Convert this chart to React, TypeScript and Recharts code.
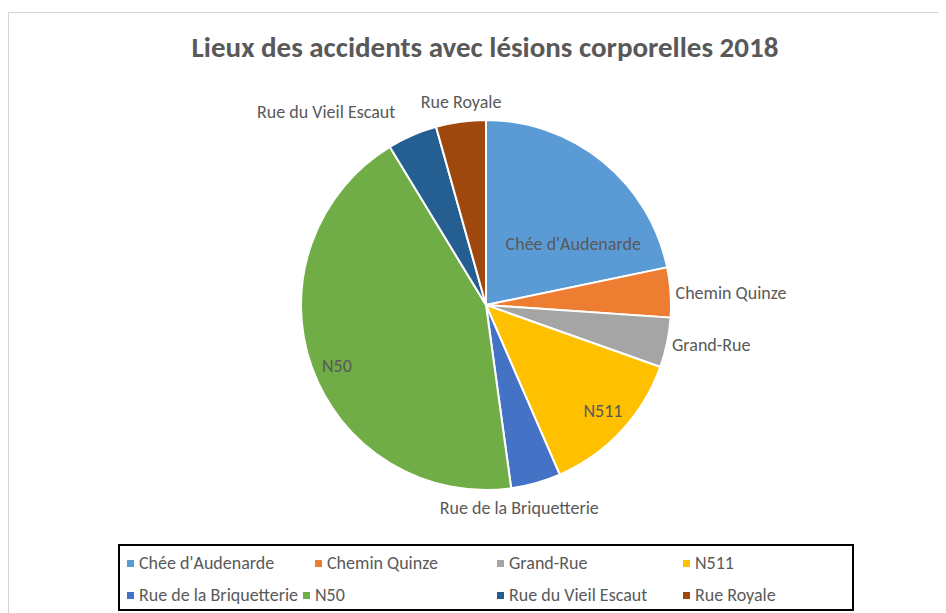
import { Legend, Pie, PieChart, Cell } from "recharts"

const categories = [
  "Chée d'Audenarde",
  "Chemin Quinze",
  "Grand-Rue",
  "N511",
  "Rue de la Briquetterie",
  "N50",
  "Rue du Vieil Escaut",
  "Rue Royale",
]
const accidents = [5, 1, 1, 3, 1, 10, 1, 1]
const colors = ["#5B9BD5", "#ED7D31", "#A5A5A5", "#FFC000", "#4472C4", "#70AD47", "#255E91", "#9E480E"]

const data = categories.map((name, i) => ({ name, value: accidents[i] }))

const FONT = "Carlito, Lato, 'Open Sans', sans-serif"
const TEXT = "#595959"
const RADIAN = Math.PI / 180
const LABEL_SIZE = 18

// petits décalages pour imiter le placement "meilleur ajustement" d'Excel
const labelNudge: Record<string, [number, number]> = {
  "Chée d'Audenarde": [-12, 61],
  "Chemin Quinze": [0, 2],
  "Grand-Rue": [0, 0],
  N511: [2, -1],
  "Rue de la Briquetterie": [-18, 11],
  N50: [-1, 8],
  "Rue du Vieil Escaut": [-15, -10],
  "Rue Royale": [1, -6],
}

// position horizontale des entrées de légende (comme Excel)
const legendLeft = [0, 188, 370, 556, 0, 176, 370, 556]

const renderLabel = (props: any) => {
  const { cx, cy, midAngle, outerRadius, percent, name } = props
  const cos = Math.cos(-midAngle * RADIAN)
  const sin = Math.sin(-midAngle * RADIAN)
  const [nx, ny] = labelNudge[name] ?? [0, 0]
  if (percent > 0.1) {
    const r = outerRadius * 0.85
    return (
      <text x={cx + r * cos + nx} y={cy + r * sin + ny} fill={TEXT} fontSize={LABEL_SIZE} fontFamily={FONT}
        textAnchor="middle" dominantBaseline="central">
        {name}
      </text>
    )
  }
  const r = outerRadius + 5
  const anchor = cos > 0.3 ? "start" : cos < -0.3 ? "end" : "middle"
  return (
    <text x={cx + r * cos + nx} y={cy + r * sin + sin * 9 + ny} fill={TEXT} fontSize={LABEL_SIZE} fontFamily={FONT}
      textAnchor={anchor} dominantBaseline="central">
      {name}
    </text>
  )
}

const renderLegend = () => (
  <div
    style={{
      position: "relative",
      border: "2px solid #000",
      boxSizing: "border-box",
      width: 736,
      height: 67,
      fontFamily: FONT,
      fontSize: LABEL_SIZE,
      color: TEXT,
    }}
  >
    {categories.map((name, i) => (
      <div
        key={name}
        style={{
          position: "absolute",
          left: 7 + legendLeft[i],
          top: i < 4 ? 2 : 34,
          height: 30,
          display: "flex",
          alignItems: "center",
          whiteSpace: "nowrap",
        }}
      >
        <span style={{ width: 7, height: 7, background: colors[i], marginRight: 5, display: "inline-block" }} />
        <span>{name}</span>
      </div>
    ))}
  </div>
)

export default function App() {
  return (
    <div style={{ position: "relative", width: 938, height: 605, overflow: "hidden" }}>
      <div
        style={{
          position: "absolute",
          left: 0,
          top: 4,
          width: 960,
          height: 620,
          border: "1px solid #d3d3d3",
        }}
      />
      <div
        style={{
          position: "absolute",
          left: 0,
          width: 954,
          top: 21,
          textAlign: "center",
          fontFamily: FONT,
          fontWeight: 700,
          fontSize: 29,
          color: TEXT,
        }}
      >
        Lieux des accidents avec lésions corporelles 2018
      </div>
      <div style={{ position: "absolute", left: 0, top: 0 }}>
        <PieChart width={938} height={605} margin={{ top: 0, right: 0, bottom: 0, left: 0 }}>
          <Pie
            data={data}
            dataKey="value"
            nameKey="name"
            cx={478}
            cy={297}
            outerRadius={185}
            startAngle={90}
            endAngle={-270}
            stroke="#fff"
            strokeWidth={2}
            label={renderLabel}
            labelLine={false}
            isAnimationActive={false}
          >
            {data.map((entry, index) => (
              <Cell key={`cell-${index}`} fill={colors[index]} />
            ))}
          </Pie>
          <Legend content={renderLegend} wrapperStyle={{ left: 110, top: 536, width: 736 }} />
        </PieChart>
      </div>
    </div>
  )
}
